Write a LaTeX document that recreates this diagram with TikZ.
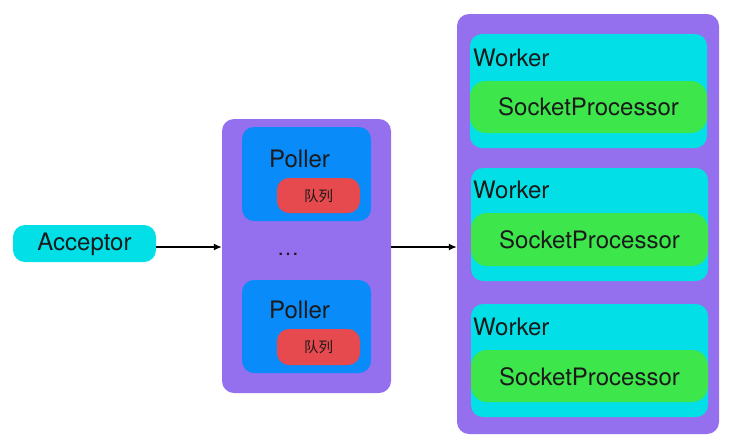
\documentclass[tikz,border=0pt]{standalone}
\usepackage{fontspec}
\setmainfont{TeX Gyre Heros}
\newfontfamily\cjk{Noto Sans CJK SC}
\usetikzlibrary{arrows.meta}
\definecolor{cpurple}{HTML}{9570EE}
\definecolor{cblue}{HTML}{0A8BFA}
\definecolor{ccyan}{HTML}{02DFE6}
\definecolor{cgreen}{HTML}{3DE64A}
\definecolor{cred}{HTML}{E64A4E}
\definecolor{ctext}{HTML}{1A1A1A}
\tikzset{
  box/.style={rounded corners=12pt, inner sep=0pt, draw=none},
  lbl/.style={inner sep=0pt, text=ctext, font=\fontsize{24}{26}\selectfont},
  qlbl/.style={inner sep=0pt, text=ctext, font=\cjk\fontsize{14.5}{16}\selectfont},
  conn/.style={line width=1.3pt, -{Latex[length=8pt,width=7pt]}}
}
\begin{document}
\begin{tikzpicture}[x=1pt,y=-1pt]
\useasboundingbox (0,0) rectangle (733,440);
% Acceptor
\node[box, fill=ccyan, minimum width=143pt, minimum height=37pt] (acc) at (84.5,243.5) {};
\node[lbl] (acct) at (84.5,244) {Acceptor};
% Pollers
\node[box, fill=cpurple, minimum width=169pt, minimum height=274pt] (pol) at (306.5,256) {};
\node[box, fill=cblue, minimum width=129pt, minimum height=94pt] (p1) at (306.5,174) {};
\node[lbl, anchor=west] (p1t) at (269,159) {Poller};
\node[box, fill=cred, minimum width=83pt, minimum height=35pt] (q1) at (318.5,195.5) {};
\node[qlbl] (q1t) at (318.5,196) {队列};
\node[inner sep=0pt, text=ctext, font=\fontsize{22}{24}\selectfont] (dots) at (288,254) {\dots};
\node[box, fill=cblue, minimum width=129pt, minimum height=93pt] (p2) at (306.5,326.5) {};
\node[lbl, anchor=west] (p2t) at (269,310) {Poller};
\node[box, fill=cred, minimum width=83pt, minimum height=36pt] (q2) at (318.5,347) {};
\node[qlbl] (q2t) at (318.5,347.5) {队列};
% Workers
\node[box, fill=cpurple, minimum width=262pt, minimum height=420pt] (wk) at (588,224) {};
\node[box, fill=ccyan, minimum width=237pt, minimum height=114pt] (w1) at (588.5,91) {};
\node[lbl, anchor=west] (w1t) at (473,58) {Worker};
\node[box, rounded corners=16pt, fill=cgreen, minimum width=237pt, minimum height=52pt] (s1) at (588.5,107) {};
\node[lbl] (s1t) at (588.5,107) {SocketProcessor};
\node[box, fill=ccyan, minimum width=237pt, minimum height=113pt] (w2) at (589.5,224.5) {};
\node[lbl, anchor=west] (w2t) at (473,190) {Worker};
\node[box, rounded corners=16pt, fill=cgreen, minimum width=237pt, minimum height=53pt] (s2) at (589.5,239.5) {};
\node[lbl] (s2t) at (589.5,240) {SocketProcessor};
\node[box, fill=ccyan, minimum width=237pt, minimum height=113pt] (w3) at (589.5,360.5) {};
\node[lbl, anchor=west] (w3t) at (473,327) {Worker};
\node[box, rounded corners=16pt, fill=cgreen, minimum width=237pt, minimum height=52pt] (s3) at (589.5,376) {};
\node[lbl] (s3t) at (589.5,377) {SocketProcessor};
% connectors
\coordinate (a1) at (156,247);
\draw[conn] (a1) -- (a1 -| pol.west);
\draw[conn] (a1 -| pol.east) -- (a1 -| wk.west);
\end{tikzpicture}
\end{document}
